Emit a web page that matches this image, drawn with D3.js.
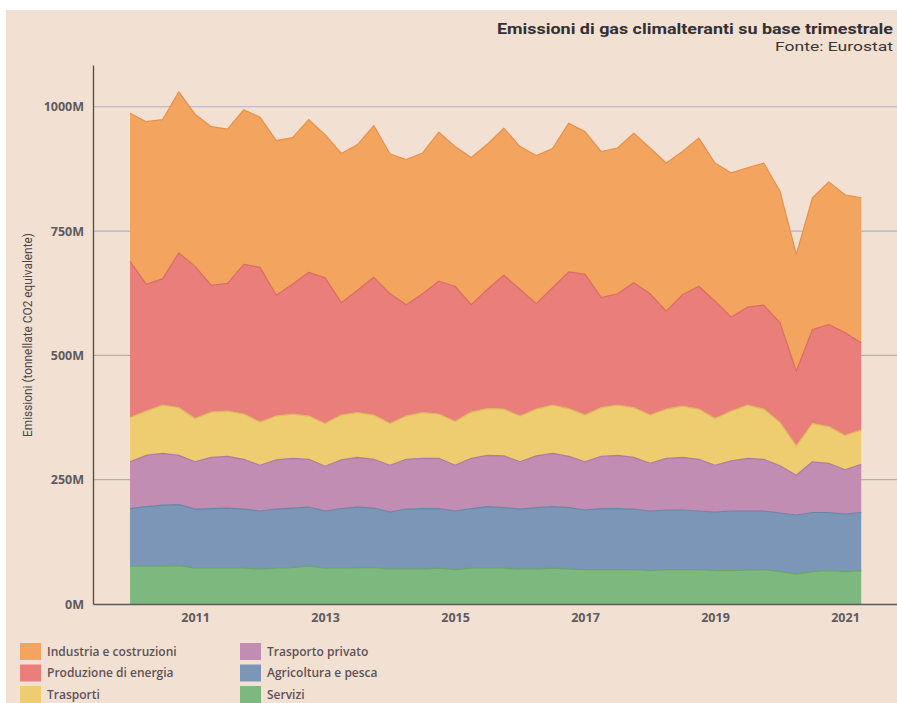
<!DOCTYPE html>
<html>
<head>
<meta charset="utf-8">
<script src="https://cdn.jsdelivr.net/npm/d3@7"></script>
<style>
  html, body { margin: 0; padding: 0; background: #ffffff; }
  svg { display: block; }
</style>
</head>
<body>
<svg id="chart" width="897" height="703"></svg>
<script>
// Quarterly greenhouse-gas emissions by sector (million tonnes CO2 equivalent)
const quarters = [
  "2010-T1","2010-T2","2010-T3","2010-T4","2011-T1","2011-T2","2011-T3","2011-T4",
  "2012-T1","2012-T2","2012-T3","2012-T4","2013-T1","2013-T2","2013-T3","2013-T4",
  "2014-T1","2014-T2","2014-T3","2014-T4","2015-T1","2015-T2","2015-T3","2015-T4",
  "2016-T1","2016-T2","2016-T3","2016-T4","2017-T1","2017-T2","2017-T3","2017-T4",
  "2018-T1","2018-T2","2018-T3","2018-T4","2019-T1","2019-T2","2019-T3","2019-T4",
  "2020-T1","2020-T2","2020-T3","2020-T4","2021-T1","2021-T2"
];

const industria = [298,327,320,324,306,319,310,311,302,311,295,307,288,300,293,305,
  281,292,283,300,281,296,292,296,287,298,280,299,287,294,293,301,293,298,288,298,
  278,290,280,286,264,235,265,287,277,292];
const energia = [314,255,254,311,306,255,257,301,311,243,261,289,293,226,246,277,
  261,224,239,267,272,216,240,269,255,212,236,275,283,221,224,251,244,197,224,247,
  236,189,197,209,201,150,189,205,207,175];
const trasporti = [89,89,97,96,87,91,91,91,87,88,89,87,86,90,90,89,
  84,87,92,89,88,93,94,94,92,94,97,96,94,98,101,100,97,99,103,101,
  94,100,107,101,87,59,77,74,69,69];
const privato = [94,103,104,99,95,103,104,100,92,99,100,96,90,98,100,98,
  94,100,101,101,92,101,103,104,95,104,107,103,97,105,107,104,96,104,106,104,
  94,101,106,104,95,80,102,99,89,97];
const agricoltura = [116,120,123,123,119,120,121,119,117,119,120,119,115,120,122,120,
  115,121,122,120,118,120,124,122,121,124,124,124,120,123,123,122,120,120,120,118,
  118,120,119,118,118,119,119,117,116,117];
const servizi = [76,76,76,77,72,72,72,72,70,72,73,76,72,72,73,73,
  70,70,70,72,69,72,72,72,70,70,72,70,69,69,69,69,67,69,69,69,
  67,67,68,69,65,60,65,67,65,67];

const yTicks = [0, 250, 500, 750, 1000];
const yearTicks = [2011, 2013, 2015, 2017, 2019, 2021];

// Sectors from the bottom of the stack to the top
const sectors = [
  { key: "servizi",     label: "Servizi",                 values: servizi,     fill: "#7db97e", line: "#6aa56b" },
  { key: "agricoltura", label: "Agricoltura e pesca",     values: agricoltura, fill: "#7b96b6", line: "#6a84a6" },
  { key: "privato",     label: "Trasporto privato",       values: privato,     fill: "#c18db3", line: "#b07aa2" },
  { key: "trasporti",   label: "Trasporti",               values: trasporti,   fill: "#edcd70", line: "#dfb95c" },
  { key: "energia",     label: "Produzione di energia",   values: energia,     fill: "#e97e7a", line: "#d96b66" },
  { key: "industria",   label: "Industria e costruzioni", values: industria,   fill: "#f3a45e", line: "#e8904a" }
];

const rows = quarters.map((q, i) => {
  const [yr, t] = q.split("-T");
  const row = { t: +yr + (+t - 1) / 4 };
  sectors.forEach(s => { row[s.key] = s.values[i]; });
  return row;
});

const svg = d3.select("#chart");
const W = 897, H = 703;

// page background
svg.append("rect").attr("x", 6).attr("y", 10).attr("width", W - 6).attr("height", H - 10)
  .attr("fill", "#f2e1d3");

const x = d3.scaleLinear().domain([2009.43, 2021.8]).range([93, 897]);
const y = d3.scaleLinear().domain([0, 1084]).range([604, 65]);

// horizontal grid
svg.append("g").selectAll("line").data(yTicks.filter(v => v > 0)).join("line")
  .attr("x1", 93).attr("x2", W)
  .attr("y1", d => y(d)).attr("y2", d => y(d))
  .attr("stroke", "#b4afc4").attr("stroke-width", 1.2);

// stacked areas
const stack = d3.stack().keys(sectors.map(s => s.key));
const series = stack(rows);

const area = d3.area()
  .x(d => x(d.data.t))
  .y0(d => y(d[0]))
  .y1(d => y(d[1]))
  .curve(d3.curveLinear);
const topLine = d3.line()
  .x(d => x(d.data.t))
  .y(d => y(d[1]))
  .curve(d3.curveLinear);

const layers = svg.append("g");
series.forEach((s, i) => {
  layers.append("path").attr("d", area(s)).attr("fill", sectors[i].fill);
});
series.forEach((s, i) => {
  layers.append("path").attr("d", topLine(s)).attr("fill", "none")
    .attr("stroke", sectors[i].line).attr("stroke-width", 1.2).attr("stroke-linejoin", "round");
});

// y axis
const yAxis = svg.append("g").attr("transform", "translate(93,0)")
  .call(d3.axisLeft(y).tickValues(yTicks).tickSize(0).tickPadding(9).tickFormat(d => d + "M"));
yAxis.select(".domain").attr("stroke", "#4a4a4a").attr("stroke-width", 1.3);
yAxis.selectAll("text")
  .attr("font-family", "'Open Sans', sans-serif").attr("font-size", 12.5).attr("font-weight", 700)
  .attr("fill", "#605a5e");

// x axis
const xAxis = svg.append("g").attr("transform", "translate(0,604)")
  .call(d3.axisBottom(x).tickValues(yearTicks).tickSize(0).tickPadding(9).tickFormat(d3.format("d")));
xAxis.select(".domain").attr("stroke", "#5a5a5a").attr("stroke-width", 1.5);
xAxis.selectAll("text")
  .attr("font-family", "'Open Sans', sans-serif").attr("font-size", 12.5).attr("font-weight", 700)
  .attr("fill", "#605a5e");

// y axis title
svg.append("text")
  .attr("transform", "translate(32,335) rotate(-90)")
  .attr("text-anchor", "middle")
  .attr("font-family", "Roboto, sans-serif").attr("font-size", 12.5)
  .attr("textLength", 204).attr("lengthAdjust", "spacingAndGlyphs")
  .attr("fill", "#4a4448")
  .text("Emissioni (tonnellate CO2 equivalente)");

// title and source
svg.append("text")
  .attr("x", 893).attr("y", 34).attr("text-anchor", "end")
  .attr("font-family", "Roboto, sans-serif").attr("font-size", 14).attr("font-weight", 700)
  .attr("textLength", 396).attr("lengthAdjust", "spacingAndGlyphs")
  .attr("fill", "#333033")
  .text("Emissioni di gas climalteranti su base trimestrale");
svg.append("text")
  .attr("x", 893).attr("y", 51).attr("text-anchor", "end")
  .attr("font-family", "Roboto, sans-serif").attr("font-size", 13.5)
  .attr("textLength", 118).attr("lengthAdjust", "spacingAndGlyphs")
  .attr("fill", "#3a3638")
  .text("Fonte: Eurostat");

// legend: two columns, top of stack first
const legendOrder = sectors.slice().reverse();
const legend = svg.append("g");
legendOrder.forEach((s, i) => {
  const col = Math.floor(i / 3), row = i % 3;
  const gx = 20 + col * 220, gy = 643 + row * 21.5;
  legend.append("rect").attr("x", gx).attr("y", gy).attr("width", 21).attr("height", 17)
    .attr("fill", s.fill);
  legend.append("text").attr("x", gx + 27).attr("y", gy + 12.5)
    .attr("font-family", "'Open Sans', sans-serif").attr("font-size", 12).attr("font-weight", 600)
    .attr("fill", "#5e5258")
    .text(s.label);
});
</script>
</body>
</html>
